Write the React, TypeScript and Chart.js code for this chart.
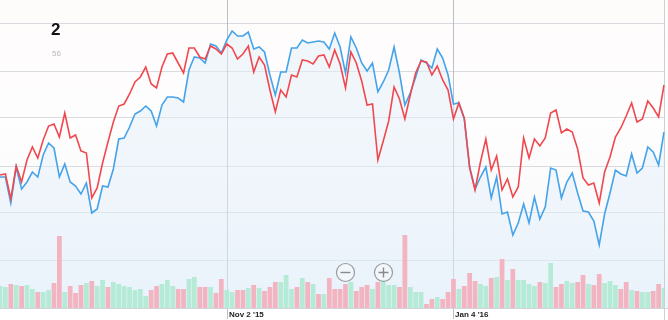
import React, { useEffect, useRef } from "react";
import { Chart, registerables } from "chart.js";

Chart.register(...registerables);

// ---- categories (trading days) ----
const firstDay = "2015-09-02";
const dayCount = 124;
const holidays = ["2015-09-07", "2015-11-26", "2015-12-25", "2016-01-01", "2016-01-18", "2016-02-15"];
const tickLabels: Record<string, string> = { "2015-11-02": "Nov 2 '15", "2016-01-04": "Jan 4 '16" };

// ---- price series (relative units) ----
const redSeries = [
  125, 126, 101, 134, 118, 140, 153, 142, 160, 174, 176, 163, 187, 162, 165, 149, 147, 102, 112, 137,
  158, 178, 194, 196, 206, 218, 223, 233, 216, 212, 233, 246, 247, 237, 227, 252, 252, 243, 241, 254,
  251, 246, 256, 252, 241, 246, 254, 228, 243, 235, 210, 188, 210, 203, 225, 223, 240, 239, 236, 244,
  245, 233, 250, 236, 212, 248, 237, 219, 195, 196, 140, 159, 179, 213, 201, 181, 205, 227, 239, 238,
  225, 234, 220, 210, 181, 197, 182, 132, 110, 138, 161, 130, 144, 110, 121, 103, 113, 162, 142, 161,
  154, 162, 187, 190, 167, 171, 168, 151, 122, 115, 117, 97, 128, 143, 163, 172, 184, 197, 178, 181,
  199, 192, 183, 215,
];
const blueSeries = [
  123, 123, 97, 133, 111, 118, 128, 123, 145, 157, 152, 123, 136, 118, 114, 106, 117, 87, 91, 114,
  113, 131, 161, 162, 173, 186, 189, 194, 189, 174, 195, 203, 203, 202, 198, 230, 243, 242, 237, 256,
  254, 247, 260, 269, 264, 264, 268, 251, 253, 248, 225, 205, 228, 228, 252, 252, 260, 257, 258, 259,
  258, 251, 267, 253, 227, 263, 252, 237, 229, 237, 208, 218, 230, 253, 227, 195, 207, 223, 240, 237,
  232, 251, 242, 225, 196, 197, 181, 133, 111, 123, 133, 102, 123, 86, 88, 65, 77, 96, 77, 103,
  81, 93, 132, 130, 102, 118, 127, 107, 89, 88, 79, 55, 86, 107, 130, 126, 124, 146, 127, 132,
  153, 148, 135, 168,
];

// ---- volume (relative units) and up/down day flags ----
const volumes = [
  22, 21, 24, 23, 22, 23, 19, 16, 16, 18, 25, 72, 16, 22, 15, 23, 25, 27, 22, 28,
  21, 26, 24, 22, 21, 18, 19, 12, 18, 22, 24, 28, 22, 19, 19, 29, 31, 21, 21, 21,
  15, 29, 18, 16, 18, 18, 20, 23, 20, 17, 21, 26, 26, 33, 19, 21, 30, 26, 24, 14,
  14, 30, 19, 19, 24, 26, 17, 21, 23, 19, 26, 28, 23, 23, 21, 73, 21, 16, 16, 4,
  9, 11, 9, 16, 29, 19, 22, 35, 27, 24, 22, 30, 31, 49, 28, 39, 28, 28, 24, 22,
  26, 25, 45, 21, 24, 27, 25, 26, 33, 24, 23, 34, 25, 27, 23, 19, 26, 18, 17, 16,
  16, 17, 24, 20,
];
const volumeUp = [
  1, 1, 0, 1, 0, 1, 1, 0, 1, 1, 0, 0, 1, 0, 0, 0, 1, 0, 1, 1,
  0, 1, 1, 1, 1, 1, 1, 1, 0, 0, 1, 1, 1, 0, 0, 1, 1, 0, 0, 1,
  0, 0, 1, 1, 0, 0, 1, 0, 1, 0, 0, 0, 1, 1, 1, 0, 1, 0, 1, 0,
  1, 0, 0, 0, 0, 1, 0, 0, 0, 1, 0, 1, 1, 1, 0, 0, 1, 1, 1, 0,
  0, 1, 0, 0, 0, 1, 0, 0, 0, 1, 1, 0, 1, 0, 1, 0, 1, 1, 1, 1,
  0, 1, 1, 0, 0, 1, 1, 0, 0, 1, 0, 0, 1, 1, 1, 0, 0, 1, 0, 1,
  1, 0, 0, 1,
];

const gridValues = [40, 87, 134, 182, 229, 277];

function buildDays(): string[] {
  const out: string[] = [];
  const d = new Date(firstDay + "T12:00:00Z");
  while (out.length < dayCount) {
    const iso = d.toISOString().slice(0, 10);
    const wd = d.getUTCDay();
    if (wd !== 0 && wd !== 6 && !holidays.includes(iso)) out.push(iso);
    d.setUTCDate(d.getUTCDate() + 1);
  }
  return out;
}

const FONT = '"Liberation Sans", Arial, sans-serif';

export default function App() {
  const ref = useRef<HTMLCanvasElement | null>(null);

  useEffect(() => {
    const canvas = ref.current;
    if (!canvas) return;
    const days = buildDays();

    const bgPlugin = {
      id: "bgPlugin",
      beforeDraw(chart: any) {
        const { ctx, width, height } = chart;
        ctx.save();
        ctx.fillStyle = "#ffffff";
        ctx.fillRect(0, 0, width, height);
        const g = ctx.createLinearGradient(0, 0, 0, 308);
        g.addColorStop(0, "rgba(253,243,243,0.35)");
        g.addColorStop(0.4, "rgba(252,248,248,0.2)");
        g.addColorStop(1, "rgba(238,245,252,1)");
        ctx.fillStyle = g;
        ctx.fillRect(0, 0, width, 308);
        ctx.restore();
      },
      beforeDatasetsDraw(chart: any) {
        const { ctx, scales } = chart;
        const x = scales.x;
        ctx.save();
        ctx.strokeStyle = "rgba(175,180,188,0.85)";
        ctx.lineWidth = 1;
        Object.keys(tickLabels).forEach((k) => {
          const idx = days.indexOf(k);
          if (idx < 0) return;
          const px = Math.round(x.getPixelForValue(idx)) + 0.5;
          ctx.beginPath();
          ctx.moveTo(px, 0);
          ctx.lineTo(px, 319);
          ctx.stroke();
        });
        const rp = Math.round(chart.chartArea.right) + 0.5;
        ctx.strokeStyle = "rgba(200,204,210,0.9)";
        ctx.beginPath();
        ctx.moveTo(rp, 0);
        ctx.lineTo(rp, 320);
        ctx.stroke();
        ctx.strokeStyle = "rgba(205,210,216,0.9)";
        ctx.beginPath();
        ctx.moveTo(0, 308.5);
        ctx.lineTo(chart.width, 308.5);
        ctx.stroke();
        ctx.restore();
      },
      afterDraw(chart: any) {
        const { ctx, scales } = chart;
        const x = scales.x;
        ctx.save();
        ctx.fillStyle = "#222";
        ctx.font = "bold 8px " + FONT;
        ctx.textBaseline = "alphabetic";
        ctx.textAlign = "left";
        Object.keys(tickLabels).forEach((k) => {
          const idx = days.indexOf(k);
          if (idx < 0) return;
          const px = Math.round(x.getPixelForValue(idx));
          ctx.fillText(tickLabels[k], px + 2, 316.5);
        });
        const buttons = [
          { cx: 345.5, cy: 272.5, plus: false },
          { cx: 383.5, cy: 272.5, plus: true },
        ];
        buttons.forEach((b) => {
          ctx.beginPath();
          ctx.arc(b.cx, b.cy, 9, 0, Math.PI * 2);
          ctx.fillStyle = "rgba(255,255,255,0.35)";
          ctx.fill();
          ctx.strokeStyle = "#9a9a9a";
          ctx.lineWidth = 1.2;
          ctx.stroke();
          ctx.strokeStyle = "#8a8a8a";
          ctx.lineWidth = 1.4;
          ctx.beginPath();
          ctx.moveTo(b.cx - 5, b.cy);
          ctx.lineTo(b.cx + 5, b.cy);
          if (b.plus) {
            ctx.moveTo(b.cx, b.cy - 5);
            ctx.lineTo(b.cx, b.cy + 5);
          }
          ctx.stroke();
        });
        ctx.restore();
      },
    };

    const chart = new Chart(canvas, {
      type: "line",
      data: {
        labels: days,
        datasets: [
          {
            type: "line",
            label: "Blue",
            data: blueSeries,
            borderColor: "#45a3ea",
            borderWidth: 1.6,
            pointRadius: 0,
            tension: 0,
            fill: "start",
            backgroundColor: "rgba(228,239,250,0.5)",
            yAxisID: "y",
            order: 3,
          },
          {
            type: "bar",
            label: "Volume",
            data: volumes,
            backgroundColor: volumeUp.map((u) => (u ? "rgba(178,234,212,0.95)" : "rgba(243,176,190,0.95)")),
            borderWidth: 0,
            barPercentage: 0.88,
            categoryPercentage: 1,
            yAxisID: "y2",
            order: 2,
          },
          {
            type: "line",
            label: "Red",
            data: redSeries,
            borderColor: "#f0484e",
            borderWidth: 1.6,
            pointRadius: 0,
            tension: 0,
            fill: false,
            yAxisID: "y",
            order: 1,
          },
        ] as any,
      },
      options: {
        animation: false,
        responsive: false,
        maintainAspectRatio: false,
        layout: { padding: { left: 0, right: 4, top: 0, bottom: 12 } },
        plugins: { legend: { display: false }, tooltip: { enabled: false } },
        scales: {
          x: { type: "category", display: false, offset: false },
          y: {
            min: -8,
            max: 300,
            display: true,
            ticks: { display: false },
            border: { display: false },
            grid: { color: "rgba(212,216,221,0.9)", drawTicks: false, lineWidth: 1 },
            afterBuildTicks: (axis: any) => {
              axis.ticks = gridValues.map((v) => ({ value: v }));
            },
            afterFit: (axis: any) => {
              axis.width = 0;
            },
          },
          y2: { display: false, min: 0, max: 308 },
        },
      } as any,
      plugins: [bgPlugin],
    });

    return () => chart.destroy();
  }, []);

  return (
    <div style={{ position: "fixed", left: 0, top: 0, width: 668, height: 320, background: "#fff", overflow: "hidden" }}>
      <canvas ref={ref} width={668} height={320} style={{ width: 668, height: 320, display: "block" }} />
      <div
        style={{
          position: "absolute",
          left: 51,
          top: 21,
          fontFamily: FONT,
          fontWeight: "bold",
          fontSize: 17,
          lineHeight: "17px",
          color: "#111",
        }}
      >
        2
      </div>
      <div
        style={{
          position: "absolute",
          left: 52,
          top: 50,
          fontFamily: FONT,
          fontSize: 8,
          lineHeight: "8px",
          color: "#b8b8b8",
        }}
      >
        56
      </div>
    </div>
  );
}
